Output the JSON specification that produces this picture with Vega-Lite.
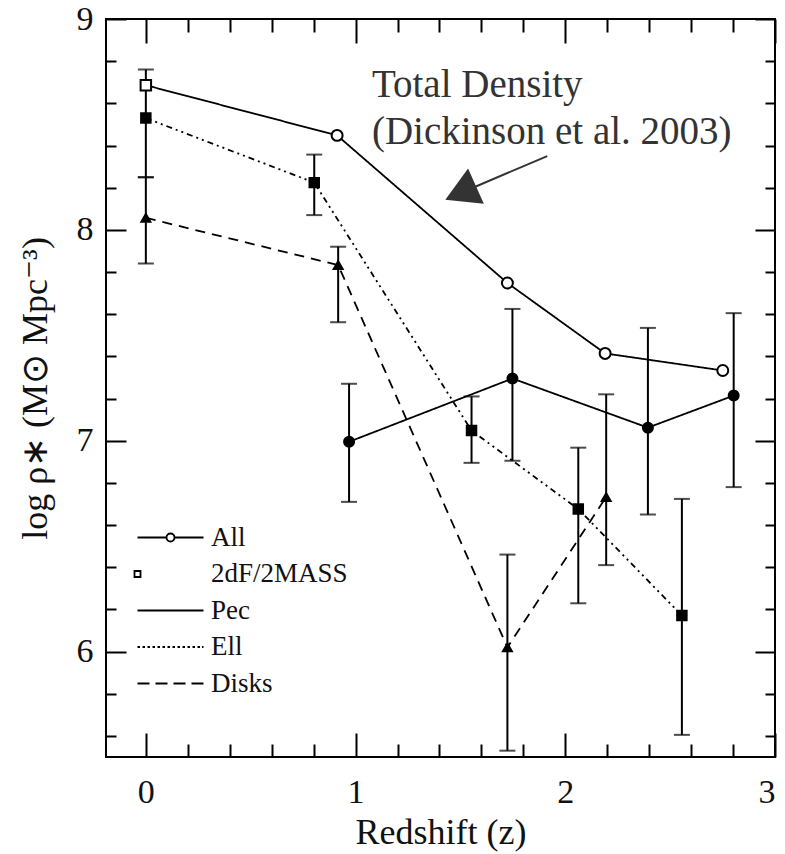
{
  "$schema": "https://vega.github.io/schema/vega-lite/v6.json",
  "width": 669,
  "height": 738,
  "autosize": {"type": "none"},
  "padding": {"left": 106, "top": 19, "right": 10, "bottom": 97},
  "background": "white",
  "config": {
    "view": {"stroke": "black", "strokeWidth": 2},
    "axis": {
      "grid": false,
      "domain": false,
      "tickColor": "black",
      "tickWidth": 2,
      "labelFont": "Liberation Serif",
      "titleFont": "Liberation Serif",
      "labelColor": "#111",
      "titleColor": "#111",
      "labelFontSize": 34,
      "titleFontSize": 36,
      "titleFontWeight": "normal"
    },
    "legend": {"labelFont": "Liberation Serif"}
  },
  "datasets": {
    "pts": [
      {"z": 0, "rho": 8.686, "series": "2dF/2MASS", "curve": "All"},
      {"z": 0.912, "rho": 8.448, "series": "All", "curve": "All"},
      {"z": 1.724, "rho": 7.748, "series": "All", "curve": "All"},
      {"z": 2.19, "rho": 7.414, "series": "All", "curve": "All"},
      {"z": 2.751, "rho": 7.333, "series": "All", "curve": "All"},
      {"z": 0.969, "rho": 6.995, "lo": 6.71, "hi": 7.27, "series": "Pec", "curve": "Pec"},
      {"z": 1.748, "rho": 7.295, "lo": 6.905, "hi": 7.625, "series": "Pec", "curve": "Pec"},
      {"z": 2.394, "rho": 7.062, "lo": 6.65, "hi": 7.535, "series": "Pec", "curve": "Pec"},
      {"z": 2.803, "rho": 7.214, "lo": 6.78, "hi": 7.605, "series": "Pec", "curve": "Pec"},
      {"z": 0, "rho": 8.53, "lo": 8.25, "hi": 8.76, "series": "Ell", "curve": "Ell"},
      {"z": 0.803, "rho": 8.224, "lo": 8.07, "hi": 8.357, "series": "Ell", "curve": "Ell"},
      {"z": 1.553, "rho": 7.048, "lo": 6.895, "hi": 7.21, "series": "Ell", "curve": "Ell"},
      {"z": 2.062, "rho": 6.676, "lo": 6.229, "hi": 6.967, "series": "Ell", "curve": "Ell"},
      {"z": 2.556, "rho": 6.171, "lo": 5.605, "hi": 6.724, "series": "Ell", "curve": "Ell"},
      {"z": 0, "rho": 8.057, "lo": 7.84, "hi": 8.25, "series": "Disks", "curve": "Disks"},
      {"z": 0.917, "rho": 7.833, "lo": 7.562, "hi": 7.92, "series": "Disks", "curve": "Disks"},
      {"z": 1.724, "rho": 6.02, "lo": 5.53, "hi": 6.46, "series": "Disks", "curve": "Disks"},
      {"z": 2.195, "rho": 6.733, "lo": 6.41, "hi": 7.22, "series": "Disks", "curve": "Disks"}
    ],
    "ann": [
      {"z": 1.078, "rho": 8.63, "label": "Total Density"},
      {"z": 1.078, "rho": 8.407, "label": "(Dickinson et al. 2003)"}
    ],
    "arrow": [
      {"z": 1.914, "rho": 8.35, "z2": 1.501, "rho2": 8.175}
    ],
    "leg": [
      {"series": "All"},
      {"series": "2dF/2MASS"},
      {"series": "Pec"},
      {"series": "Ell"},
      {"series": "Disks"}
    ]
  },
  "layer": [
    {
      "data": {"name": "pts"},
      "mark": {"type": "rule", "color": "black", "strokeWidth": 2},
      "encoding": {
        "x": {"field": "z", "type": "quantitative", "scale": {"domain": [-0.19, 3.0], "nice": false, "zero": false},
          "axis": {"orient": "bottom", "values": [0, 1, 2, 3], "ticks": false, "tickSize": 0, "labelPadding": 18, "title": "Redshift (z)", "titlePadding": 6}},
        "y": {"field": "lo", "type": "quantitative", "scale": {"domain": [5.5, 9], "nice": false, "zero": false},
          "axis": {"orient": "left", "values": [6, 7, 8, 9], "ticks": false, "tickSize": 0, "labelPadding": 13, "title": "log ρ∗ (M⊙ Mpc⁻³)", "titlePadding": 22}},
        "y2": {"field": "hi"}
      }
    },
    {
      "data": {"name": "pts"},
      "mark": {"type": "tick", "orient": "horizontal", "color": "black", "size": 16, "thickness": 2},
      "encoding": {
        "x": {"field": "z", "type": "quantitative",
          "axis": {"orient": "bottom", "values": [0, 1, 2, 3], "labels": false, "tickSize": -24, "title": null}},
        "y": {"field": "lo", "type": "quantitative",
          "axis": {"orient": "left", "values": [6, 7, 8, 9], "labels": false, "tickSize": -20, "title": null}}
      }
    },
    {
      "data": {"name": "pts"},
      "mark": {"type": "tick", "orient": "horizontal", "color": "black", "size": 16, "thickness": 2},
      "encoding": {
        "x": {"field": "z", "type": "quantitative",
          "axis": {"orient": "bottom", "values": [0.2, 0.4, 0.6, 0.8, 1.2, 1.4, 1.6, 1.8, 2.2, 2.4, 2.6, 2.8], "labels": false, "tickSize": -13, "title": null}},
        "y": {"field": "hi", "type": "quantitative",
          "axis": {"orient": "left", "values": [5.6, 5.8, 6.2, 6.4, 6.6, 6.8, 7.2, 7.4, 7.6, 7.8, 8.2, 8.4, 8.6, 8.8], "labels": false, "tickSize": -10, "title": null}}
      }
    },
    {
      "data": {"name": "pts"},
      "mark": {"type": "line", "color": "black", "strokeWidth": 1.8},
      "encoding": {
        "x": {"field": "z", "type": "quantitative",
          "axis": {"orient": "top", "values": [0, 1, 2, 3], "labels": false, "tickSize": -24, "title": null}},
        "y": {"field": "rho", "type": "quantitative",
          "axis": {"orient": "right", "values": [6, 7, 8, 9], "labels": false, "tickSize": -20, "title": null}},
        "detail": {"field": "curve", "type": "nominal"},
        "strokeDash": {"field": "curve", "type": "nominal",
          "scale": {"domain": ["All", "Pec", "Ell", "Disks"], "range": [[1, 0], [1, 0], [6, 4, 2, 4, 2, 4], [10, 7]]},
          "legend": null}
      }
    },
    {
      "data": {"name": "pts"},
      "mark": {"type": "point", "stroke": "black", "strokeWidth": 2, "opacity": 1},
      "encoding": {
        "x": {"field": "z", "type": "quantitative",
          "axis": {"orient": "top", "values": [0.2, 0.4, 0.6, 0.8, 1.2, 1.4, 1.6, 1.8, 2.2, 2.4, 2.6, 2.8], "labels": false, "tickSize": -13, "title": null}},
        "y": {"field": "rho", "type": "quantitative",
          "axis": {"orient": "right", "values": [5.6, 5.8, 6.2, 6.4, 6.6, 6.8, 7.2, 7.4, 7.6, 7.8, 8.2, 8.4, 8.6, 8.8], "labels": false, "tickSize": -10, "title": null}},
        "shape": {"field": "series", "type": "nominal",
          "scale": {"domain": ["All", "2dF/2MASS", "Pec", "Ell", "Disks"], "range": ["circle", "square", "circle", "square", "triangle-up"]},
          "legend": null},
        "fill": {"field": "series", "type": "nominal",
          "scale": {"domain": ["All", "2dF/2MASS", "Pec", "Ell", "Disks"], "range": ["white", "white", "black", "black", "black"]},
          "legend": null},
        "size": {"field": "series", "type": "nominal",
          "scale": {"domain": ["All", "2dF/2MASS", "Pec", "Ell", "Disks"], "range": [120, 80, 120, 100, 80]},
          "legend": null}
      }
    },
    {
      "data": {"name": "ann"},
      "mark": {"type": "text", "font": "Liberation Serif", "fontSize": 39, "color": "#333", "align": "left", "baseline": "alphabetic"},
      "encoding": {
        "x": {"field": "z", "type": "quantitative", "axis": null},
        "y": {"field": "rho", "type": "quantitative", "axis": null},
        "text": {"field": "label"}
      }
    },
    {
      "data": {"name": "arrow"},
      "mark": {"type": "rule", "color": "#333", "strokeWidth": 2},
      "encoding": {
        "x": {"field": "z", "type": "quantitative", "axis": null},
        "y": {"field": "rho", "type": "quantitative", "axis": null},
        "x2": {"field": "z2"},
        "y2": {"field": "rho2"}
      }
    },
    {
      "data": {"name": "arrow"},
      "mark": {"type": "point", "shape": "triangle-up", "filled": true, "color": "#333", "opacity": 1, "size": 1500, "angle": 246},
      "encoding": {
        "x": {"field": "z2", "type": "quantitative", "axis": null},
        "y": {"field": "rho2", "type": "quantitative", "axis": null}
      }
    },
    {
      "data": {"name": "leg"},
      "mark": {"type": "point", "opacity": 0, "color": "black"},
      "encoding": {
        "shape": {"field": "series", "type": "nominal",
          "scale": {"domain": ["All", "2dF/2MASS", "Pec", "Ell", "Disks"],
            "range": [
              "M-3.3,0H-0.4M0.4,0H3.3M-0.4,0A0.4,0.4,0,1,1,0.4,0A0.4,0.4,0,1,1,-0.4,0",
              "M-3.6,-0.3H-3V0.3H-3.6Z",
              "M-3.3,0H3.3",
              "M-3.3,0H-3.05M-2.8,0H-2.55M-2.3,0H-2.05M-1.8,0H-1.55M-1.3,0H-1.05M-0.8,0H-0.55M-0.3,0H-0.05M0.2,0H0.45M0.7,0H0.95M1.2,0H1.45M1.7,0H1.95M2.2,0H2.45M2.7,0H2.95M3.15,0H3.3",
              "M-3.3,0H-2.1M-1.5,0H-0.3M0.3,0H1.5M2.1,0H3.3"
            ]},
          "legend": {
            "orient": "none",
            "legendX": 51,
            "legendY": 505,
            "title": null,
            "padding": 0,
            "symbolSize": 400,
            "symbolStrokeWidth": 1.8,
            "symbolOpacity": 1,
            "symbolFillColor": "transparent",
            "symbolStrokeColor": "black",
            "labelFont": "Liberation Serif",
            "labelFontSize": 27,
            "labelColor": "#111",
            "labelOffset": 27,
            "rowPadding": 8.5
          }
        }
      }
    }
  ],
  "resolve": {
    "axis": {"x": "independent", "y": "independent"},
    "scale": {"shape": "independent"}
  }
}
